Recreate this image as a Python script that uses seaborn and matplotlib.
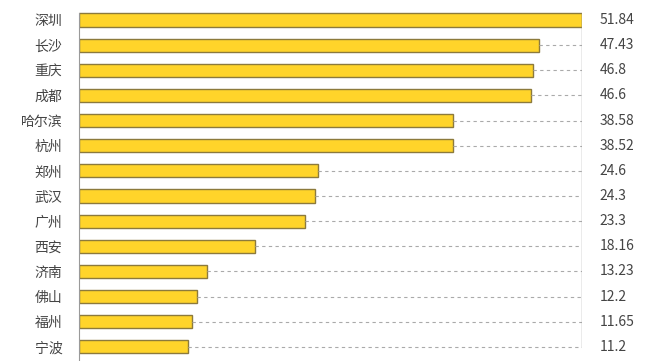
import matplotlib
matplotlib.use("Agg")
import matplotlib.pyplot as plt
import seaborn as sns
import pandas as pd

cities = ["深圳", "长沙", "重庆", "成都", "哈尔滨", "杭州", "郑州", "武汉", "广州",
          "西安", "济南", "佛山", "福州", "宁波"]
values = [51.84, 47.43, 46.8, 46.6, 38.58, 38.52, 24.6, 24.3, 23.3,
          18.16, 13.23, 12.2, 11.65, 11.2]
labels = ["51.84", "47.43", "46.8", "46.6", "38.58", "38.52", "24.6", "24.3", "23.3",
          "18.16", "13.23", "12.2", "11.65", "11.2"]

sns.set_style("white")
plt.rcParams['font.family'] = ['Noto Sans CJK SC', 'DejaVu Sans']

df = pd.DataFrame({"city": cities, "value": values})

fig = plt.figure(figsize=(6.63, 3.61), dpi=100)
ax = fig.add_axes([79 / 663, 0, 503 / 663, 1])

sns.barplot(data=df, y="city", x="value", orient="h", color="#FFD42A",
            saturation=1, width=0.52, edgecolor="#8C7A3C", linewidth=1, ax=ax)

xmax = max(values)
ax.set_xlim(0, xmax)
ax.set_ylim(13.56, -0.795)

# dashed guides from bar end to the right line
for i, v in enumerate(values):
    if v < xmax:
        ax.plot([v, xmax], [i, i], ls=(0, (3, 3)), color="#aaaaaa", lw=0.8)
    ax.text(xmax + 1.8, i, labels[i], ha="left", va="center", fontsize=10,
            color="#444444", clip_on=False)

ax.plot([xmax, xmax], [-0.26, len(values) - 1], color="#9a9a9a", lw=1)

for s in ["top", "right", "bottom"]:
    ax.spines[s].set_visible(False)
ax.spines["left"].set_color("#9a9a9a")
ax.spines["left"].set_bounds(-0.26, 13.56)

ax.set_xticks([])
ax.set_xlabel("")
ax.set_ylabel("")
ax.tick_params(axis="y", length=0, pad=12, labelsize=10, labelcolor="#444444")

fig.savefig("out.png", dpi=100)
